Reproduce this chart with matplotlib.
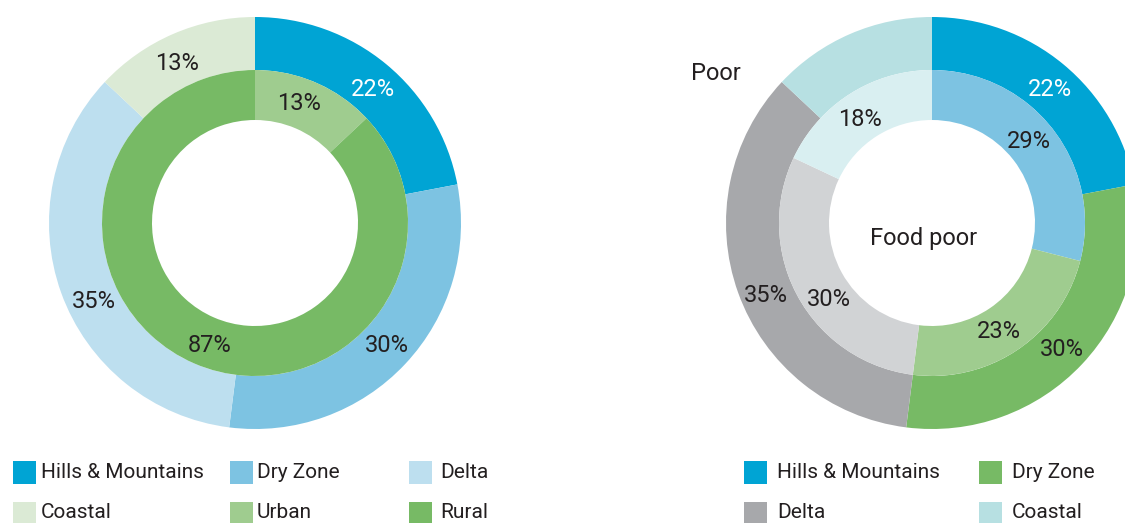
import numpy as np
import matplotlib
matplotlib.use('Agg')
import matplotlib.pyplot as plt
from matplotlib.patches import Rectangle

plt.rcParams['font.family'] = ['Roboto', 'DejaVu Sans']

W, H = 1125, 523
TEXT = '#231f20'

# left chart: regions (outer) / urban-rural (inner)
regions = ['Hills & Mountains', 'Dry Zone', 'Delta', 'Coastal']
left_outer = [22, 30, 35, 13]
left_outer_colors = ['#00a4d4', '#7dc3e2', '#bddfef', '#dbead5']
left_inner_labels = ['Urban', 'Rural']
left_inner = [13, 87]
left_inner_colors = ['#9fcc8f', '#77ba65']

# right chart: poor (outer) / food poor (inner)
right_outer = [22, 30, 35, 13]
right_outer_colors = ['#00a4d4', '#77ba65', '#a7a8ab', '#b7e0e2']
right_inner = [29, 23, 30, 18]
right_inner_colors = ['#7dc3e2', '#9fcc8f', '#d1d3d5', '#d9eff1']

# where the % labels sit (pixels from top-left), None = no label
left_outer_pos = [(373, 90), (387, 345), (94, 301), (177, 63)]
left_inner_pos = [(299, 104), (210, 345)]
right_outer_pos = [(1050, 90), (1062, 349), (766, 296), None]
right_inner_pos = [(1029, 141), (999, 331), (829, 300), (860, 119)]

R_OUT, R_MID, R_IN = 206, 153, 103
FS = 17


def ring(ax, center, vals, colors, r, w):
    ax.pie(vals, colors=colors, radius=r, center=center, startangle=90,
           counterclock=False, wedgeprops=dict(width=w, linewidth=0))


def ring_labels(ax, vals, pos, white=()):
    for i, v in enumerate(vals):
        if pos[i] is None:
            continue
        x, y = pos[i]
        c = 'white' if i in white else TEXT
        ax.text(x, H - y, '{}%'.format(v), ha='center', va='center', fontsize=FS, color=c)


fig = plt.figure(figsize=(W / 100, H / 100), dpi=100)
ax = fig.add_axes([0, 0, 1, 1])

cl = (255, H - 223)
cr = (932, H - 223)

ring(ax, cl, left_outer, left_outer_colors, R_OUT, R_OUT - R_MID)
ring(ax, cl, left_inner, left_inner_colors, R_MID, R_MID - R_IN)
ring(ax, cr, right_outer, right_outer_colors, R_OUT, R_OUT - R_MID)
ring(ax, cr, right_inner, right_inner_colors, R_MID, R_MID - R_IN)

ring_labels(ax, left_outer, left_outer_pos, white=(0,))
ring_labels(ax, left_inner, left_inner_pos)
ring_labels(ax, right_outer, right_outer_pos, white=(0,))
ring_labels(ax, right_inner, right_inner_pos)

ax.text(924, H - 238, 'Food poor', ha='center', va='center', fontsize=FS, color=TEXT)
ax.text(716, H - 73, 'Poor', ha='center', va='center', fontsize=FS, color=TEXT)

ax.set_xlim(0, W)
ax.set_ylim(0, H)
ax.set_aspect('auto')
ax.axis('off')


# legends drawn by hand
def legend(ax, items, xs, tx, ys):
    for k, (lab, col) in enumerate(items):
        row, c = divmod(k, len(xs))
        y = H - ys[row]
        ax.add_patch(Rectangle((xs[c], y - 11.5), 23, 23, color=col, lw=0))
        ax.text(tx[c], y, lab, ha='left', va='center', fontsize=15, color=TEXT)


left_items = list(zip(regions[:3], left_outer_colors[:3])) + \
    [(regions[3], left_outer_colors[3])] + list(zip(left_inner_labels, left_inner_colors))
legend(ax, left_items, [13, 230, 409], [41, 257, 440], [472, 513])

right_items = list(zip(regions, right_outer_colors))
legend(ax, right_items, [744, 979], [777, 1012], [472, 513])

fig.savefig('out.png', dpi=100)
